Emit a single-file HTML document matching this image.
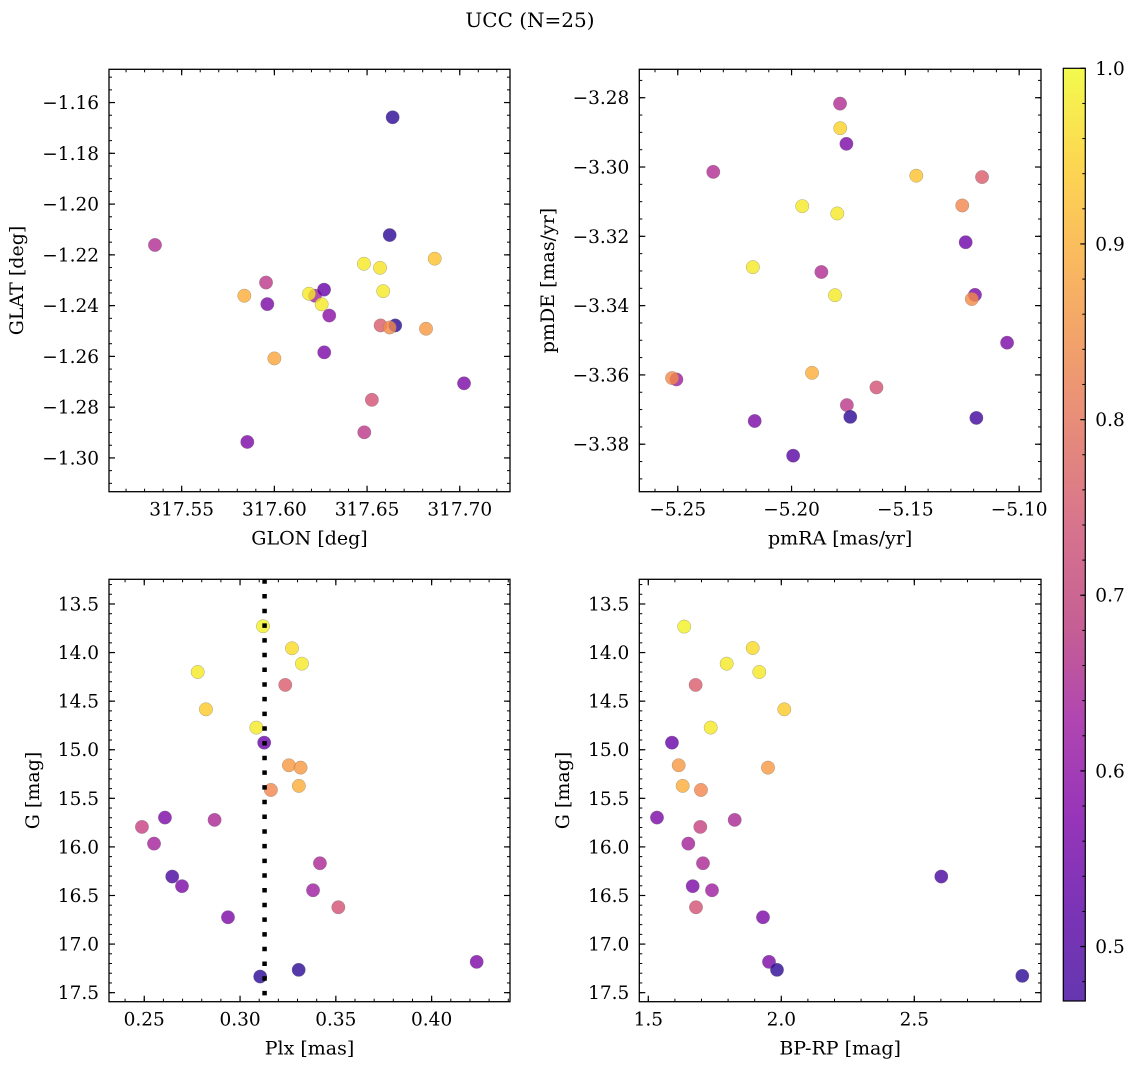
<!DOCTYPE html>
<html><head><meta charset="utf-8"><style>
html,body{margin:0;padding:0;background:#fff;}
svg{display:block;font-family:"DejaVu Serif","Liberation Serif",serif;}
</style></head><body>
<svg id="fig" width="1136" height="1068" viewBox="0 0 1136 1068" xmlns="http://www.w3.org/2000/svg">
<defs>
<linearGradient id="plasma" x1="0" y1="1" x2="0" y2="0">
<stop offset="0" stop-color="#3f049c"/><stop offset="0.1" stop-color="#5b01a5"/><stop offset="0.2" stop-color="#7e03a8"/><stop offset="0.3" stop-color="#9c179e"/><stop offset="0.4" stop-color="#b73779"/><stop offset="0.5" stop-color="#cc4f72"/><stop offset="0.6" stop-color="#de6a5c"/><stop offset="0.7" stop-color="#ee8847"/><stop offset="0.8" stop-color="#f9a936"/><stop offset="0.9" stop-color="#fcce25"/><stop offset="1" stop-color="#f0f921"/>
</linearGradient>
</defs>
<text x="530" y="27" font-size="20" text-anchor="middle">UCC (N=25)</text>
</svg>
<script>
// Panel A: GLON vs GLAT
const glon=[317.5356,317.6638,317.6622,317.6865,317.6483,317.6570,317.6587,317.5955,317.5838,317.5962,317.6219,317.6187,317.6268,317.6255,317.6296,317.6652,317.6573,317.6622,317.6818,317.6000,317.6269,317.7023,317.6526,317.6485,317.5854];
const glat=[-1.2161,-1.1658,-1.2122,-1.2215,-1.2235,-1.2251,-1.2343,-1.2309,-1.2361,-1.2394,-1.2361,-1.2353,-1.2337,-1.2395,-1.2439,-1.2478,-1.2478,-1.2486,-1.2491,-1.2608,-1.2584,-1.2706,-1.2771,-1.2899,-1.2937];
const probA=[0.68,0.50,0.50,0.93,0.98,0.97,0.98,0.70,0.90,0.60,0.66,0.98,0.57,0.98,0.62,0.50,0.77,0.85,0.87,0.89,0.60,0.60,0.75,0.70,0.60];
// Panel B: pmRA vs pmDE
const pmra=[-5.1787,-5.1786,-5.1759,-5.2344,-5.1452,-5.1163,-5.1250,-5.1953,-5.1799,-5.1235,-5.2170,-5.1869,-5.1809,-5.1194,-5.1208,-5.1053,-5.1910,-5.2506,-5.2525,-5.1627,-5.1757,-5.1742,-5.1188,-5.2162,-5.1993];
const pmde=[-3.2817,-3.2888,-3.2933,-3.3014,-3.3025,-3.3029,-3.3111,-3.3113,-3.3134,-3.3217,-3.3289,-3.3303,-3.3370,-3.3369,-3.3381,-3.3507,-3.3594,-3.3613,-3.3609,-3.3636,-3.3687,-3.3721,-3.3724,-3.3733,-3.3833];
const probB=[0.68,0.95,0.60,0.68,0.93,0.77,0.84,0.98,0.98,0.58,0.98,0.68,0.98,0.60,0.85,0.60,0.90,0.65,0.85,0.75,0.70,0.50,0.52,0.60,0.55];
// Panels C/D: Plx, BP-RP vs G
const plx=[0.3120,0.3271,0.3323,0.2779,0.3236,0.2822,0.3085,0.3126,0.3255,0.3316,0.3307,0.3161,0.2608,0.2867,0.2488,0.2551,0.3417,0.2646,0.2697,0.3381,0.3513,0.2937,0.4235,0.3306,0.3105];
const bprp=[1.635,1.8925,1.7947,1.9173,1.678,2.0113,1.7346,1.589,1.95,1.6143,1.6293,1.698,1.5327,1.8248,1.6955,1.6504,1.7056,2.6015,1.6669,1.7395,1.6793,1.9312,1.9538,1.9838,2.906];
const gmagC=[13.729,13.956,14.114,14.200,14.333,14.584,14.772,14.927,15.160,15.184,15.372,15.414,15.698,15.722,15.794,15.966,16.168,16.305,16.404,16.446,16.621,16.724,17.183,17.265,17.334];
const gmagD=[13.733,13.953,14.114,14.200,14.333,14.584,14.772,14.927,15.184,15.160,15.372,15.414,15.698,15.722,15.794,15.966,16.168,16.305,16.404,16.446,16.621,16.724,17.183,17.265,17.327];
const probC=[0.99,0.96,0.98,0.98,0.77,0.94,0.98,0.57,0.87,0.87,0.90,0.84,0.60,0.67,0.72,0.66,0.67,0.53,0.60,0.65,0.75,0.60,0.60,0.50,0.50];
const probD=[0.99,0.96,0.98,0.98,0.77,0.94,0.98,0.57,0.87,0.87,0.90,0.84,0.60,0.67,0.72,0.66,0.67,0.53,0.60,0.65,0.75,0.60,0.60,0.50,0.50];
const plxMean=0.3128;
// tick labels
const xTicksA=[317.55,317.60,317.65,317.70];
const yTicksA=[-1.16,-1.18,-1.20,-1.22,-1.24,-1.26,-1.28,-1.30];
const xTicksB=[-5.25,-5.20,-5.15,-5.10];
const yTicksB=[-3.28,-3.30,-3.32,-3.34,-3.36,-3.38];
const xTicksC=[0.25,0.30,0.35,0.40];
const yTicksG=[13.5,14.0,14.5,15.0,15.5,16.0,16.5,17.0,17.5];
const xTicksD=[1.5,2.0,2.5];
const cbTicks=[0.5,0.6,0.7,0.8,0.9,1.0];
const cMin=0.469, cMax=1.0;

const NS='http://www.w3.org/2000/svg';
const fig=document.getElementById('fig');
const TF=18.5, LF=19;
function mk(tag,attrs,parent){const e=document.createElementNS(NS,tag);for(const k in attrs)e.setAttribute(k,attrs[k]);(parent||fig).appendChild(e);return e;}
const stops=[[0,[13,8,135]],[0.1,[65,4,157]],[0.2,[106,0,168]],[0.3,[143,13,164]],[0.4,[177,42,144]],[0.5,[204,71,120]],[0.6,[225,100,98]],[0.7,[242,132,75]],[0.8,[252,166,54]],[0.9,[252,206,37]],[1,[240,249,33]]];
function plasma(c){let t=(c-cMin)/(cMax-cMin);t=Math.max(0,Math.min(1,t));
 for(let i=0;i<stops.length-1;i++){const a=stops[i],b=stops[i+1];if(t<=b[0]){const f=(t-a[0])/(b[0]-a[0]);const r=a[1].map((v,j)=>Math.round(v+(b[1][j]-v)*f));return 'rgb('+r.join(',')+')';}}
 return 'rgb(240,249,33)';}
function fmt(v,d){return (v<0?'\u2212':'')+Math.abs(v).toFixed(d);}

function panel(P){
 const g=mk('g',{});
 
 
 const sx=v=>P.x0+(v-P.xd[0])/(P.xd[1]-P.xd[0])*(P.x1-P.x0);
 const sy=v=>P.y0+(v-P.yd[0])/(P.yd[1]-P.yd[0])*(P.y1-P.y0);
 for(let i=0;i<P.xs.length;i++){
  const c=mk('circle',{cx:sx(P.xs[i]),cy:sy(P.ys[i]),r:6.7,fill:plasma(P.cs[i]),'fill-opacity':0.8,stroke:'#777','stroke-width':0.5,'stroke-opacity':0.6},g);
  
  
 }
 if(P.vline!==undefined){const l=mk('line',{x1:sx(P.vline),x2:sx(P.vline),y1:P.y0,y2:P.y1,stroke:'#000','stroke-width':4.5,'stroke-dasharray':'4.5 10.2'},g);
  
  }
 const fr=mk('rect',{x:P.x0,y:P.y0,width:P.x1-P.x0,height:P.y1-P.y0,fill:'none',stroke:'#000','stroke-width':1.3},g);
 
 
 const lo=Math.min(...P.xd),hi=Math.max(...P.xd);
 for(let v=Math.ceil(lo/P.xm-1e-6)*P.xm;v<=hi;v+=P.xm){const X=sx(v);mk('line',{x1:X,x2:X,y1:P.y1,y2:P.y1-3,stroke:'#000','stroke-width':1},g);mk('line',{x1:X,x2:X,y1:P.y0,y2:P.y0+3,stroke:'#000','stroke-width':1},g);}
 const ylo=Math.min(...P.yd),yhi=Math.max(...P.yd);
 for(let v=Math.ceil(ylo/P.ym-1e-6)*P.ym;v<=yhi;v+=P.ym){const Y=sy(v);mk('line',{x1:P.x0,x2:P.x0+3,y1:Y,y2:Y,stroke:'#000','stroke-width':1},g);mk('line',{x1:P.x1,x2:P.x1-3,y1:Y,y2:Y,stroke:'#000','stroke-width':1},g);}
 P.xt.forEach(v=>{const X=sx(v);mk('line',{x1:X,x2:X,y1:P.y1,y2:P.y1-6,stroke:'#000','stroke-width':1.2},g);mk('line',{x1:X,x2:X,y1:P.y0,y2:P.y0+6,stroke:'#000','stroke-width':1.2},g);
  const t=mk('text',{x:X,y:P.y1+24,'font-size':TF,'text-anchor':'middle'},g);t.textContent=fmt(v,P.xdec);
  
  });
 P.yt.forEach(v=>{const Y=sy(v);mk('line',{x1:P.x0,x2:P.x0+6,y1:Y,y2:Y,stroke:'#000','stroke-width':1.2},g);mk('line',{x1:P.x1,x2:P.x1-6,y1:Y,y2:Y,stroke:'#000','stroke-width':1.2},g);
  const t=mk('text',{x:P.x0-10,y:Y+6.5,'font-size':TF,'text-anchor':'end'},g);t.textContent=fmt(v,P.ydec);
  
  });
 const xl=mk('text',{x:(P.x0+P.x1)/2,y:P.y1+53,'font-size':LF,'text-anchor':'middle'},g);xl.textContent=P.xlab;
 
 
 const yx=P.ylx,yy=(P.y0+P.y1)/2;
 const yl=mk('text',{x:yx,y:yy,'font-size':LF,'text-anchor':'middle',transform:'rotate(-90 '+yx+' '+yy+')'},g);yl.textContent=P.ylab;
 
 
}
panel({name:'glon-glat-panel',x0:109,x1:510,y0:69.3,y1:491.7,xd:[317.5108,317.7271],yd:[-1.1469,-1.3133],xs:glon,ys:glat,cs:probA,xt:xTicksA,yt:yTicksA,xm:0.01,ym:0.005,xdec:2,ydec:2,xlab:'GLON [deg]',ylab:'GLAT [deg]',ylx:23});
panel({name:'pm-panel',x0:639.3,x1:1041,y0:69.3,y1:491.7,xd:[-5.2669,-5.0904],yd:[-3.2718,-3.3937],xs:pmra,ys:pmde,cs:probB,xt:xTicksB,yt:yTicksB,xm:0.01,ym:0.005,xdec:2,ydec:2,xlab:'pmRA [mas/yr]',ylab:'pmDE [mas/yr]',ylx:554});
panel({name:'plx-g-panel',x0:109,x1:510,y0:579.3,y1:1001.7,xd:[0.2316,0.4409],yd:[13.246,17.593],xs:plx,ys:gmagC,cs:probC,xt:xTicksC,yt:yTicksG,xm:0.01,ym:0.1,xdec:2,ydec:1,xlab:'Plx [mas]',ylab:'G [mag]',ylx:39,vline:plxMean});
panel({name:'cmd-panel',x0:639.3,x1:1041,y0:579.3,y1:1001.7,xd:[1.4662,2.9763],yd:[13.246,17.593],xs:bprp,ys:gmagD,cs:probD,xt:xTicksD,yt:yTicksG,xm:0.1,ym:0.1,xdec:1,ydec:1,xlab:'BP-RP [mag]',ylab:'G [mag]',ylx:569});
// colorbar
const cb=mk('g',{});


const cx0=1063.3,cx1=1085.3,cy0=68.3,cy1=1001;
const cyS=v=>cy1-(v-cMin)/(cMax-cMin)*(cy1-cy0);
mk('rect',{x:cx0,y:cy0,width:cx1-cx0,height:cy1-cy0,fill:'url(#plasma)','fill-opacity':0.8},cb);
mk('rect',{x:cx0,y:cy0,width:cx1-cx0,height:cy1-cy0,fill:'none',stroke:'#000','stroke-width':1.2},cb);
for(let v=0.48;v<=1.0001;v+=0.02){const Y=cyS(v);mk('line',{x1:cx1,x2:cx1-3,y1:Y,y2:Y,stroke:'#000','stroke-width':1},cb);}
cbTicks.forEach(v=>{const Y=cyS(v);mk('line',{x1:cx1,x2:cx1-5,y1:Y,y2:Y,stroke:'#000','stroke-width':1.2},cb);
 const t=mk('text',{x:cx1+10,y:Y+6.5,'font-size':TF},cb);t.textContent=v.toFixed(1);
 
 });
</script>
</body></html>
